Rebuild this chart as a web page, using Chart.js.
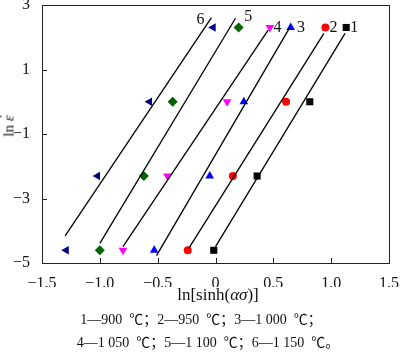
<!DOCTYPE html>
<html>
<head>
<meta charset="utf-8">
<script src="https://cdn.jsdelivr.net/npm/chart.js@4"></script>
<style>
  html,body{margin:0;padding:0;background:#fff;}
  #wrap{position:relative;width:400px;height:352px;overflow:hidden;}
  canvas{position:absolute;left:0;top:0;}
  .t{position:absolute;font-family:"Liberation Serif","Times New Roman",serif;color:#111;white-space:nowrap;}
  .cap{font-family:"Liberation Serif","Times New Roman","Noto Sans CJK SC",serif;font-size:14px;}
  .dot{position:relative;display:inline-block;}
  .dot b{position:absolute;left:1px;right:-1px;top:-3px;text-align:center;font-weight:normal;font-style:normal;font-family:"DejaVu Serif",serif;}
</style>
</head>
<body>
<div id="wrap">
  <canvas id="c" width="400" height="352"></canvas>
  <div class="t" id="xt" style="font-size:17px;left:218px;top:295px;transform:translate(-50%,-50%);">ln[sinh(<i>ασ</i>)]</div>
  <div class="t" id="yt" style="font-size:15px;left:9px;top:126px;transform:translate(-50%,-50%) rotate(-90deg);">ln <span class="dot"><i>ε</i><b>˙</b></span></div>
  <div class="t cap" style="left:201px;top:318px;transform:translate(-50%,-50%);">1—900&nbsp; ℃；2—950&nbsp; ℃；3—1&nbsp;000&nbsp; ℃；</div>
  <div class="t cap" style="left:208px;top:341px;transform:translate(-50%,-50%);">4—1&nbsp;050&nbsp; ℃；5—1&nbsp;100&nbsp; ℃；6—1&nbsp;150&nbsp; ℃。</div>
</div>
<script>
// ---- data ----
const categories = ['1', '2', '3', '4', '5', '6'];
const temperatures = ['900 ℃', '950 ℃', '1 000 ℃', '1 050 ℃', '1 100 ℃', '1 150 ℃'];
const lnStrainRate = [-4.605, -2.303, 0, 2.303];
const s1x = [-0.015, 0.36, 0.815, 1.13];
const s2x = [-0.24, 0.15, 0.61, 0.95];
const s3x = [-0.53, -0.05, 0.245, 0.65];
const s4x = [-0.80, -0.415, 0.10, 0.47];
const s5x = [-1.00, -0.62, -0.37, 0.20];
const s6x = [-1.29, -1.02, -0.57, -0.02];
// fitted lines: [x0, y0, x1, y1]
const fit1 = [0.00, -4.49, 1.12, 2.12];
const fit2 = [-0.23, -4.54, 0.937, 2.12];
const fit3 = [-0.51, -4.77, 0.64, 2.29];
const fit4 = [-0.80, -4.49, 0.455, 2.22];
const fit5 = [-1.00, -4.39, 0.173, 2.59];
const fit6 = [-1.30, -4.16, -0.035, 2.61];
// line label positions (data coords)
const labelX = [1.20, 1.02, 0.74, 0.535, 0.283, -0.13];
const labelY = [2.28, 2.28, 2.28, 2.28, 2.64, 2.53];
const xTickLabels = ['\u22121.5', '\u22121.0', '\u22120.5', '0', '0.5', '1.0', '1.5'];
const yTickLabels = ['\u22125', '\u22123', '\u22121', '1', '3'];

// ---- styles ----
const colors = ['#000000', '#ff0000', '#0000ff', '#ff00ff', '#006400', '#000080'];
const styles = ['rect', 'circle', 'triangle', 'triangle', 'rectRot', 'triangle'];
const rotations = [0, 0, 0, 180, 0, 270];
const radii = [5, 4, 5, 5, 5, 5];

const seriesX = [s1x, s2x, s3x, s4x, s5x, s6x];
const fits = [fit1, fit2, fit3, fit4, fit5, fit6];

const datasets = [];
fits.forEach((f, i) => {
  datasets.push({
    type: 'line',
    label: 'fit ' + categories[i],
    data: [{x: f[0], y: f[1]}, {x: f[2], y: f[3]}],
    borderColor: '#000', borderWidth: 1.3, pointRadius: 0, fill: false, showLine: true
  });
});
seriesX.forEach((xs, i) => {
  datasets.push({
    type: 'scatter',
    label: categories[i] + '—' + temperatures[i],
    data: xs.map((x, j) => ({x: x, y: lnStrainRate[j]})),
    backgroundColor: colors[i], borderColor: colors[i], borderWidth: 0,
    pointStyle: styles[i], rotation: rotations[i], pointRadius: radii[i]
  });
});

const framePlugin = {
  id: 'frame',
  afterDraw(chart) {
    const {ctx, chartArea: a, scales: {x, y}} = chart;
    ctx.save();
    ctx.strokeStyle = '#222';
    ctx.lineWidth = 1;
    ctx.strokeRect(Math.round(a.left) + 0.5, Math.round(a.top) + 0.5,
                   Math.round(a.right - a.left), Math.round(a.bottom - a.top));
    ctx.beginPath();
    x.ticks.forEach(t => {
      const px = Math.round(x.getPixelForValue(t.value)) + 0.5;
      ctx.moveTo(px, a.bottom); ctx.lineTo(px, a.bottom - 5);
    });
    y.ticks.forEach(t => {
      const py = Math.round(y.getPixelForValue(t.value)) + 0.5;
      ctx.moveTo(a.left, py); ctx.lineTo(a.left + 5, py);
    });
    ctx.stroke();
    ctx.fillStyle = '#111';
    ctx.font = '16px "Liberation Serif", "Times New Roman", serif';
    ctx.textAlign = 'center';
    ctx.textBaseline = 'middle';
    categories.forEach((c, i) => {
      ctx.fillText(c, x.getPixelForValue(labelX[i]), y.getPixelForValue(labelY[i]));
    });
    ctx.restore();
  }
};

new Chart(document.getElementById('c'), {
  data: {datasets},
  options: {
    responsive: false,
    animation: false,
    devicePixelRatio: 1,
    layout: {padding: {left: 0, right: 11, top: 5, bottom: 65}},
    plugins: {legend: {display: false}, tooltip: {enabled: false}},
    scales: {
      x: {
        type: 'linear', min: -1.5, max: 1.5,
        grid: {display: false}, border: {display: false},
        ticks: {stepSize: 0.5, padding: 3, color: '#111',
          font: {family: '"Liberation Serif", "Times New Roman", serif', size: 16},
          callback: (v, i) => xTickLabels[i], maxRotation: 0, autoSkip: false},
        afterFit(s) { s.height = 24; s.paddingLeft = 0; s.paddingRight = 0; }
      },
      y: {
        type: 'linear', min: -5, max: 3,
        grid: {display: false}, border: {display: false},
        ticks: {stepSize: 2, padding: 4, color: '#111',
          font: {family: '"Liberation Serif", "Times New Roman", serif', size: 16},
          callback: (v, i) => yTickLabels[i], autoSkip: false},
        afterFit(s) { s.width = 42; s.paddingTop = 0; s.paddingBottom = 0; }
      }
    }
  },
  plugins: [framePlugin]
});
</script>
</body>
</html>
